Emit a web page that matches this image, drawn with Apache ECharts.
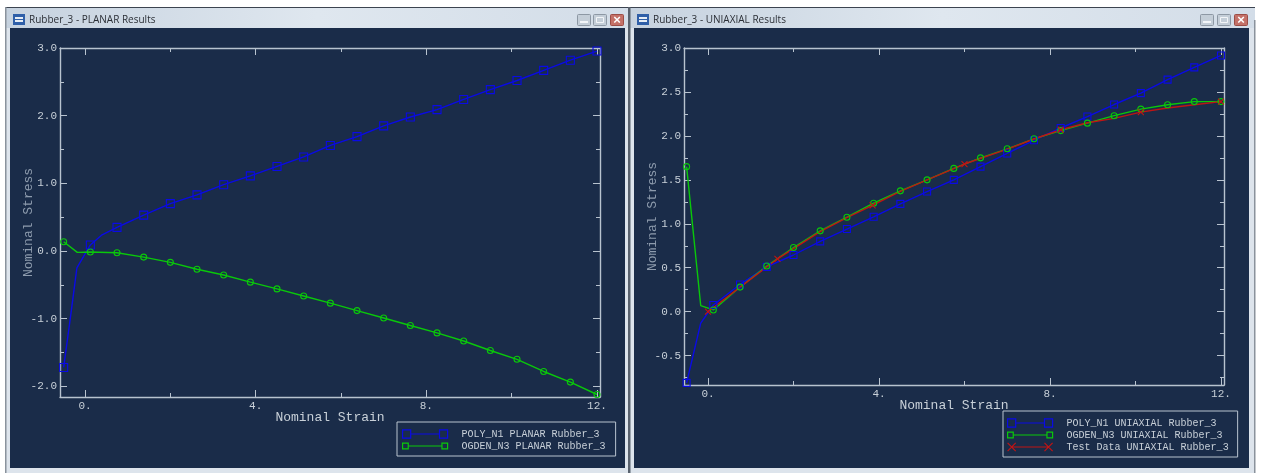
<!DOCTYPE html>
<html><head><meta charset="utf-8">
<style>html,body{margin:0;padding:0;background:#fff}#c{width:1263px;height:473px}</style>
<script src="https://cdn.jsdelivr.net/npm/echarts@6/dist/echarts.min.js"></script>
</head><body><div id="c"></div>
<script>
// ---------- data ----------
const planarPolyX  = [-0.5,-0.35,-0.19,0.125,0.4,0.75,1.375,2,2.625,3.25,3.875,4.5,5.125,5.75,6.375,7,7.625,8.25,8.875,9.5,10.125,10.75,11.375,12];
const planarPolyY  = [-1.72,-1.02,-0.25,0.09,0.24,0.35,0.53,0.70,0.83,0.98,1.11,1.25,1.39,1.56,1.69,1.85,1.98,2.09,2.24,2.385,2.52,2.67,2.82,2.955];
const planarPolyOff = [-0.35,-0.19,0.4];
const planarOgdenX = [-0.5,-0.18,0.125,0.75,1.375,2,2.625,3.25,3.875,4.5,5.125,5.75,6.375,7,7.625,8.25,8.875,9.5,10.125,10.75,11.375,12];
const planarOgdenY = [0.137,-0.02,-0.015,-0.025,-0.09,-0.167,-0.27,-0.354,-0.46,-0.56,-0.664,-0.77,-0.88,-0.99,-1.10,-1.21,-1.33,-1.47,-1.60,-1.78,-1.937,-2.12];
const planarOgdenOff = [-0.18];

const uniPolyX  = [-0.5,-0.17,0.125,0.75,1.375,2,2.625,3.25,3.875,4.5,5.125,5.75,6.375,7,7.625,8.25,8.875,9.5,10.125,10.75,11.375,12];
const uniPolyY  = [-0.81,-0.13,0.076,0.31,0.51,0.645,0.80,0.94,1.08,1.227,1.367,1.50,1.65,1.80,1.95,2.09,2.22,2.357,2.487,2.64,2.78,2.915];
const uniPolyOff = [-0.17];
const uniOgdenX = uniPolyX;
const uniOgdenY = [1.65,0.07,0.02,0.28,0.52,0.73,0.92,1.075,1.234,1.375,1.50,1.63,1.75,1.853,1.967,2.06,2.145,2.23,2.305,2.354,2.39,2.39];
const uniOgdenOff = [-0.17];
const uniTestX = [0,0.75,1.625,2.625,3.25,3.85,4.5,5.125,6,7,7.625,8.25,8.875,9.5,10.125,10.75,11.375,12];
const uniTestY = [0,0.28,0.60,0.91,1.07,1.21,1.37,1.50,1.68,1.85,1.965,2.07,2.15,2.20,2.27,2.317,2.354,2.39];
const uniTestOff = [0.75,2.625,3.25,4.5,5.125,7,7.625,8.875,9.5,10.75,11.375];

const xMajor = [0,4,8,12];
const xMinor = [2,6,10];
const planarYMajor = [-2,-1,0,1,2,3];
const planarYMinor = [-1.5,-0.5,0.5,1.5,2.5];
const uniYMajor = [-0.5,0,0.5,1,1.5,2,2.5,3];
const uniYMinor = [-0.75,-0.25,0.25,0.75,1.25,1.75,2.25,2.75];

const planarNames = ['POLY_N1 PLANAR Rubber_3','OGDEN_N3 PLANAR Rubber_3'];
const uniNames = ['POLY_N1 UNIAXIAL Rubber_3','OGDEN_N3 UNIAXIAL Rubber_3','Test Data UNIAXIAL Rubber_3'];

// ---------- style ----------
const MONO = '"Liberation Mono","DejaVu Sans Mono",monospace';
const AXIS = '#b8c3cf', TXT = '#c8d0d8', DIM = '#8d9bad';
const BLUE = '#0a0ae6', GREEN = '#0ac80a', RED = '#c01414';
const SQUARE = 'rect', CIRCLE = 'circle', CROSS = 'path://M0 0L10 10M10 0L0 10';
const ICON_S = 'path://M0 0H9V9H0ZM9 4.5H41M41 0H50V9H41Z';
const ICON_C = 'path://M1 1.5H7V7.5H1ZM7 4.5H43M43 1.5H49V7.5H43Z';
const ICON_X = 'path://M0 0L9 9M9 0L0 9M4.5 4.5H45.5M41 0L50 9M50 0L41 9';

const plots = [
 {grid:{left:60,top:48,width:540,height:349}, x:[-0.586,12.07], y:[-2.157,3], maj:planarYMajor, min:planarYMinor, fmt:v=>v.toFixed(1)},
 {grid:{left:684,top:48,width:540,height:337}, x:[-0.561,12.07], y:[-0.834,3], maj:uniYMajor, min:uniYMinor, fmt:v=>v.toFixed(1)}
];

const xAxes=[], yAxes=[], idx=[];
const offLine={show:false,onZero:false};
const onLine={show:true,onZero:false,lineStyle:{color:AXIS,width:1.4}};
plots.forEach((p,g)=>{
  const xBase = {gridIndex:g,type:'value',min:p.x[0],max:p.x[1],splitLine:{show:false},axisLabel:{show:false},axisLine:offLine};
  const yBase = {gridIndex:g,type:'value',min:p.y[0],max:p.y[1],splitLine:{show:false},axisLabel:{show:false},axisLine:offLine};
  const tick=(vals,len)=>({show:true,inside:true,length:len,customValues:vals,lineStyle:{color:AXIS,width:1}});
  idx[g]={x:xAxes.length,y:yAxes.length};
  xAxes.push({...xBase,position:'bottom',
    axisLine:onLine,
    axisTick:tick(xMajor,7),
    axisLabel:{show:true,customValues:xMajor,formatter:v=>v+'.',color:TXT,fontFamily:MONO,fontSize:11,margin:4},
    name:'Nominal Strain',nameLocation:'middle',nameGap:14,nameMoveOverlap:false,nameTextStyle:{color:TXT,fontFamily:MONO,fontSize:13}});
  xAxes.push({...xBase,position:'bottom',axisTick:tick(xMinor,4)});
  xAxes.push({...xBase,position:'top',axisLine:onLine,axisTick:tick(xMajor,7)});
  xAxes.push({...xBase,position:'top',axisTick:tick(xMinor,4)});
  yAxes.push({...yBase,position:'left',
    axisLine:onLine,
    axisTick:tick(p.maj,7),
    axisLabel:{show:true,customValues:p.maj,formatter:p.fmt,color:TXT,fontFamily:MONO,fontSize:11,margin:3},
    name:'Nominal Stress',nameLocation:'middle',nameGap:25,nameMoveOverlap:false,nameTextStyle:{color:DIM,fontFamily:MONO,fontSize:13}});
  yAxes.push({...yBase,position:'left',axisTick:tick(p.min,4)});
  yAxes.push({...yBase,position:'right',axisLine:onLine,axisTick:tick(p.maj,7)});
  yAxes.push({...yBase,position:'right',axisTick:tick(p.min,4)});
});

function line(name,g,xs,ys,off,color,symbol,size){
  const hidden=new Set(off);
  return {name,type:'line',xAxisIndex:idx[g].x,yAxisIndex:idx[g].y,clip:false,showAllSymbol:true,
    silent:true,animation:false,
    data:xs.map((x,i)=>[x,ys[i]]),
    symbol:(v)=>hidden.has(v[0])?'none':symbol,symbolSize:size,
    lineStyle:{color,width:1.4},
    itemStyle:{color:'rgba(0,0,0,0)',borderColor:color,borderWidth:1.1}};
}
const series=[
  line(planarNames[0],0,planarPolyX,planarPolyY,planarPolyOff,BLUE,SQUARE,8),
  line(planarNames[1],0,planarOgdenX,planarOgdenY,planarOgdenOff,GREEN,CIRCLE,6),
  line(uniNames[0],1,uniPolyX,uniPolyY,uniPolyOff,BLUE,SQUARE,7),
  line(uniNames[1],1,uniOgdenX,uniOgdenY,uniOgdenOff,GREEN,CIRCLE,6),
  line(uniNames[2],1,uniTestX,uniTestY,uniTestOff,RED,CROSS,6)
];

function legend(names,icons,box,colors){
  return {show:true,orient:'vertical',left:box.left,top:box.top,
    padding:box.padding,itemGap:2,itemWidth:45,itemHeight:10,align:'left',selectedMode:false,
    borderColor:AXIS,borderWidth:1,backgroundColor:'rgba(0,0,0,0)',
    textStyle:{color:TXT,fontFamily:MONO,fontSize:10,padding:[0,0,0,9]},
    data:names.map((name,i)=>({name,icon:icons[i],
      itemStyle:{color:'rgba(0,0,0,0)',borderColor:colors[i],borderWidth:1.2}}))};
}

// ---------- window chrome ----------
function rect(x,y,w,h,fill,extra){return Object.assign({type:'rect',silent:true,z:-10,shape:{x,y,width:w,height:h},style:{fill}},extra||{});}
const barGrad={type:'linear',x:0,y:0,x2:1,y2:0,colorStops:[{offset:0,color:'#c6d2df'},{offset:0.5,color:'#dfe7ef'},{offset:1,color:'#d3dde8'}]};
function windowChrome(x0,x1,px0,px1,title,icoX,btn){
  const els=[
    rect(x0,7,x1-x0,466,'#dde4ec'),
    rect(x0,7,x1-x0,1.5,'#3c4450'),
    rect(x0,8,x1-x0,20,barGrad),
    rect(px0,28,px1-px0,440,'#1a2c49'),
    rect(icoX,14,12,11,'#2f5fa8'),
    rect(icoX+2,17,8,2,'#e6edf5'),
    rect(icoX+2,20,8,2,'#e6edf5'),
    {type:'text',silent:true,z:-9,style:{x:icoX+16,y:20,text:title,fill:'#2b2f36',font:'10px "Open Sans"',textVerticalAlign:'middle'}},
  ];
  btn.forEach((b,i)=>{
    const close=i===2;
    els.push({type:'rect',silent:true,z:-9,shape:{x:b+.5,y:14.5,width:13,height:11,r:1},style:{fill:close?'#c47168':'#c4ced8',stroke:close?'#9c4d46':'#8d98a4',lineWidth:1}});
    if(i===0) els.push(rect(b+3,21,8,2,'#f2f5f8',{z:-8}));
    if(i===1) els.push({type:'rect',silent:true,z:-8,shape:{x:b+3.5,y:17.5,width:7,height:5},style:{fill:'none',stroke:'#f2f5f8',lineWidth:1}});
    if(i===2) els.push({type:'text',silent:true,z:-8,style:{x:b+7,y:20,text:'×',fill:'#fff',font:'bold 13px "Liberation Sans"',textAlign:'center',textVerticalAlign:'middle'}});
  });
  return els;
}
const graphicEls=[
  ...windowChrome(5,629,10,625,'Rubber_3 - PLANAR Results',13,[577,593,610]),
  ...windowChrome(630,1255,634,1249,'Rubber_3 - UNIAXIAL Results',637,[1200,1217,1234]),
  rect(5,7,1.5,466,'#8a929c'),
  rect(628,7,2.5,466,'#59626e'),
  rect(1254,20,1.5,453,'#8a929c')
];

const chart=echarts.init(document.getElementById('c'),null,{renderer:'canvas'});
chart.setOption({
  backgroundColor:'#ffffff',animation:false,
  grid:plots.map(p=>p.grid),
  xAxis:xAxes,yAxis:yAxes,
  legend:[
    legend(planarNames,[ICON_S,ICON_C],{left:397,top:422,padding:[7,10,5,5]},[BLUE,GREEN]),
    legend(uniNames,[ICON_S,ICON_C,ICON_X],{left:1003,top:411,padding:[7,9,5,4]},[BLUE,GREEN,RED])
  ],
  graphic:graphicEls,
  series
});
</script></body></html>
